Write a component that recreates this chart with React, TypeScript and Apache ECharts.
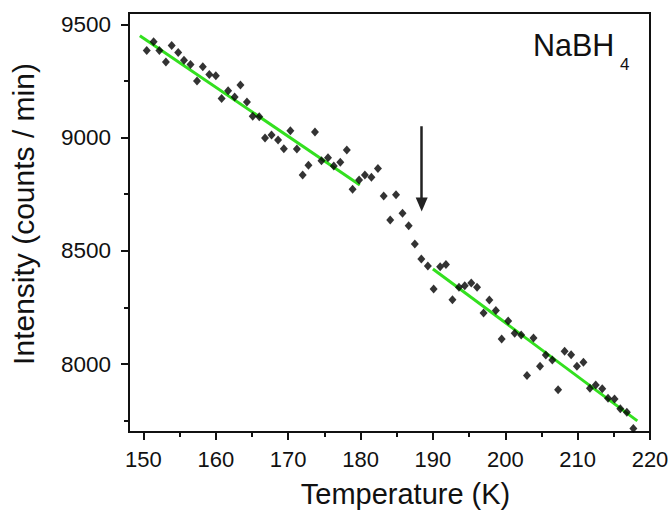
import React, { useEffect, useRef } from "react";
import * as echarts from "echarts";

// Temperature (K) of each measured point
const TEMPERATURE = [
  150.45, 151.4, 152.2, 153.1, 153.9, 154.8, 155.6, 156.5, 157.4, 158.2,
  159.1, 160.0, 160.8, 161.7, 162.6, 163.4, 164.3, 165.1, 166.0, 166.8,
  167.7, 168.6, 169.4, 170.3, 171.2, 172.0, 172.8, 173.7, 174.6, 175.5,
  176.3, 177.2, 178.1, 178.9, 179.8, 180.6, 181.5, 182.4, 183.2, 184.1,
  184.9, 185.8, 186.65, 187.5, 188.4, 189.3, 190.1, 191.0, 191.8, 192.7,
  193.6, 194.4, 195.3, 196.1, 197.0, 197.8, 198.7, 199.5, 200.4, 201.3,
  202.2, 203.0, 203.9, 204.8, 205.6, 206.5, 207.3, 208.2, 209.1, 209.9,
  210.8, 211.7, 212.5, 213.4, 214.2, 215.1, 215.9, 216.8, 217.7,
];

// Intensity (counts / min)
const INTENSITY = [
  9384, 9423, 9384, 9334, 9407, 9376, 9341, 9323, 9250, 9313,
  9279, 9273, 9173, 9207, 9179, 9232, 9157, 9094, 9092, 8998,
  9011, 8989, 8951, 9030, 8950, 8835, 8878, 9025, 8898, 8911,
  8875, 8891, 8945, 8772, 8813, 8835, 8825, 8863, 8742, 8636,
  8748, 8666, 8611, 8530, 8464, 8433, 8331, 8430, 8440, 8284,
  8339, 8346, 8358, 8339, 8225, 8283, 8237, 8111, 8190, 8136,
  8128, 7949, 8115, 7990, 8040, 8018, 7886, 8056, 8041, 7990,
  8008, 7893, 7908, 7891, 7849, 7846, 7803, 7787, 7716,
];

// Linear fits (end points)
const FIT_LOW_T = [149.5, 179.9];
const FIT_LOW_I = [9450, 8791];
const FIT_HIGH_T = [190.0, 218.25];
const FIT_HIGH_I = [8420, 7749];

// Arrow marking the transition
const ARROW_T = [188.45];
const ARROW_I = [9050, 8705];

// Axis ticks
const X_TICKS = [150, 160, 170, 180, 190, 200, 210, 220];
const X_MINOR = [155, 165, 175, 185, 195, 205, 215];
const Y_TICKS = [8000, 8500, 9000, 9500];
const Y_MINOR = [7750, 8250, 8750, 9250];

const FONT = "'Liberation Sans', Arial, Helvetica, sans-serif";
const INK = "#111111";
const GREEN = "#33e01f";

export default function App() {
  const ref = useRef<HTMLDivElement>(null);

  useEffect(() => {
    if (!ref.current) return;
    const chart = echarts.init(ref.current, null, { renderer: "svg" });

    const axisLineStyle = () => ({ color: INK, width: 2 });
    const plain = (v: number) => String(v);

    chart.setOption({
      animation: false,
      backgroundColor: "#ffffff",
      textStyle: { fontFamily: FONT },
      grid: {
        left: 129,
        right: 20,
        top: 13,
        bottom: 79,
        show: true,
        borderColor: INK,
        borderWidth: 2,
        outerBoundsMode: "none",
      },
      xAxis: [
        {
          type: "value",
          min: 148,
          max: 220,
          position: "bottom",
          axisLine: { show: true, onZero: false, lineStyle: axisLineStyle() },
          axisTick: {
            show: true,
            length: 8,
            customValues: X_TICKS,
            lineStyle: axisLineStyle(),
          },
          axisLabel: {
            customValues: X_TICKS,
            formatter: plain,
            fontSize: 22,
            color: INK,
            margin: 16,
            fontFamily: FONT,
          },
          splitLine: { show: false },
          name: "Temperature (K)",
          nameLocation: "middle",
          nameGap: 47,
          nameTextStyle: {
            fontSize: 29,
            color: INK,
            fontFamily: FONT,
            padding: [0, 0, 0, 32],
          },
        },
        {
          type: "value",
          min: 148,
          max: 220,
          position: "bottom",
          axisLine: { show: false, onZero: false },
          axisTick: {
            show: true,
            length: 5,
            customValues: X_MINOR,
            lineStyle: axisLineStyle(),
          },
          axisLabel: { show: false },
          splitLine: { show: false },
        },
      ],
      yAxis: [
        {
          type: "value",
          min: 7700,
          max: 9550,
          position: "left",
          axisLine: { show: true, onZero: false, lineStyle: axisLineStyle() },
          axisTick: {
            show: true,
            length: 8,
            customValues: Y_TICKS,
            lineStyle: axisLineStyle(),
          },
          axisLabel: {
            customValues: Y_TICKS,
            formatter: plain,
            fontSize: 22.5,
            color: INK,
            margin: 18,
            fontFamily: FONT,
          },
          splitLine: { show: false },
          name: "Intensity (counts / min)",
          nameLocation: "middle",
          nameRotate: 90,
          nameGap: 91,
          nameTextStyle: {
            fontSize: 30,
            color: INK,
            fontFamily: FONT,
            padding: [0, 0, 0, 17],
          },
        },
        {
          type: "value",
          min: 7700,
          max: 9550,
          position: "left",
          axisLine: { show: false, onZero: false },
          axisTick: {
            show: true,
            length: 5,
            customValues: Y_MINOR,
            lineStyle: axisLineStyle(),
          },
          axisLabel: { show: false },
          splitLine: { show: false },
        },
      ],
      series: [
        {
          type: "line",
          name: "fit low",
          data: FIT_LOW_T.map((t, i) => [t, FIT_LOW_I[i]]),
          showSymbol: false,
          symbol: "none",
          lineStyle: { color: GREEN, width: 3 },
          z: 2,
          silent: true,
        },
        {
          type: "line",
          name: "fit high",
          data: FIT_HIGH_T.map((t, i) => [t, FIT_HIGH_I[i]]),
          showSymbol: false,
          symbol: "none",
          lineStyle: { color: GREEN, width: 3 },
          z: 2,
          silent: true,
        },
        {
          type: "scatter",
          name: "NaBH4",
          data: TEMPERATURE.map((t, i) => [t, INTENSITY[i]]),
          symbol: "diamond",
          symbolSize: [8, 9],
          itemStyle: { color: "#000000" },
          z: 3,
          markLine: {
            silent: true,
            symbol: ["none", "triangle"],
            symbolSize: [12, 14],
            label: { show: false },
            lineStyle: { color: "#222222", width: 2.5, type: "solid" },
            data: [
              [
                { coord: [ARROW_T[0], ARROW_I[0]] },
                { coord: [ARROW_T[0], ARROW_I[1]] },
              ],
            ],
          },
        },
      ],
      graphic: [
        {
          type: "text",
          x: 533,
          y: 44.6,
          style: {
            text: "NaBH",
            fontSize: 30.5,
            fontFamily: FONT,
            fill: INK,
            verticalAlign: "middle",
            align: "left",
          },
        },
        {
          type: "text",
          x: 620,
          y: 64,
          style: {
            text: "4",
            fontSize: 17,
            fontFamily: FONT,
            fill: INK,
            verticalAlign: "middle",
            align: "left",
          },
        },
      ],
    });

    return () => {
      chart.dispose();
    };
  }, []);

  return (
    <div
      ref={ref}
      style={{
        position: "fixed",
        left: 0,
        top: 0,
        width: 670,
        height: 511,
        background: "#ffffff",
      }}
    />
  );
}
